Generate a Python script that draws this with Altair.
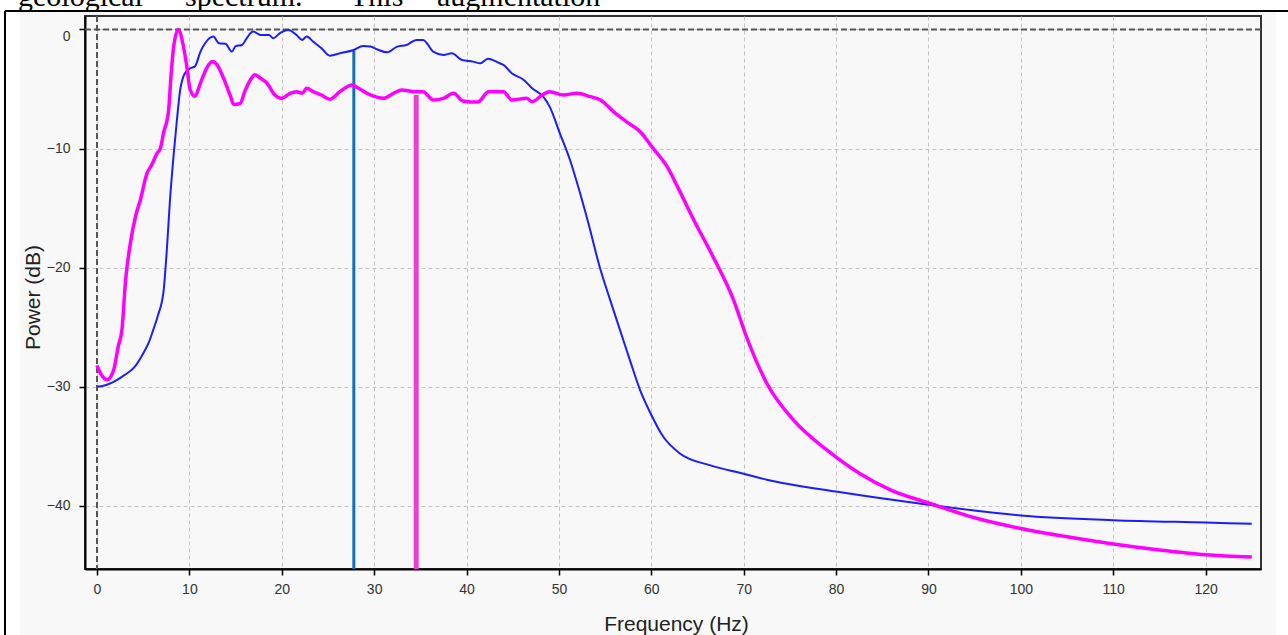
import altair as alt
import pandas as pd

# ---------------- data ----------------
blue_freq = [0, 1, 2, 3, 4, 5, 5.6, 6.1, 6.6, 7.2, 7.6, 7.9, 8.3, 8.6, 9.0, 9.5,
             10.1, 10.6, 11.2, 11.7, 12.6, 13.2, 13.9, 14.6, 15.0, 15.7, 16.2, 16.9,
             17.7, 18.6, 19.1, 19.8, 20.7, 21.6, 22.2, 22.7, 23.4, 24.3, 25.2, 26.3,
             27.8, 28.8, 29.6, 30.3, 31.4, 32.5, 33.5, 34.6, 35.3, 36.4, 37.5, 38.4,
             39.5, 40.7, 41.5, 42.3, 43.6, 44.0, 44.9, 46.2, 47.1, 48.3, 49.0, 50.1,
             51.2, 52.2, 53.2, 54.4, 55.5, 56.6, 57.7, 58.8, 59.9, 61.3, 63.1, 66.4,
             70.0, 72.5, 80, 90, 100, 110, 120, 125]
blue_db = [-30.0, -29.85, -29.5, -29.0, -28.4, -27.2, -26.3, -25.2, -24.0, -22.0, -18.0,
           -14.3, -10.5, -8.0, -5.1, -3.7,
           -3.26, -3.1, -1.86, -1.16, -0.6, -1.16, -1.2, -1.86, -1.4, -1.3, -0.74, -0.18,
           -0.46, -0.46, -0.74, -0.3, -0.04, -0.46, -0.88, -0.6, -1.02, -1.58, -2.2, -2.0,
           -1.72, -1.39, -1.44, -1.66, -1.92, -1.44, -1.3, -0.88, -0.88, -1.86, -2.14, -2.0,
           -2.56, -2.7, -2.84, -2.45, -2.84, -2.98, -3.68, -4.24, -4.94, -5.64, -6.48, -8.72,
           -10.96, -13.5, -16.3, -19.9, -22.6, -25.2, -27.8, -30.3, -32.2, -34.2, -35.6, -36.6,
           -37.3, -37.8, -38.8, -39.9, -40.8, -41.2, -41.4, -41.5]

pink_freq = [0, 0.4, 1.1, 1.8, 2.3, 2.7, 3.1, 3.6, 4.2, 4.7, 5.4, 5.9, 6.5, 6.85, 7.2,
             7.75, 8.0, 8.3, 8.8, 9.3, 9.7, 10.1, 10.6, 11.2, 11.9, 12.5, 13.0, 13.7,
             14.4, 14.8, 15.5, 16.0, 16.6, 17.1, 17.7, 18.4, 19.1, 20.0, 20.9, 21.6,
             22.2, 22.7, 23.4, 24.3, 25.2, 26.3, 27.6, 28.3, 29.6, 31.0, 32.1, 33.0,
             34.3, 35.3, 36.4, 37.5, 38.6, 39.6, 41.2, 42.4, 44.0, 44.9, 46.5, 47.1,
             48.2, 49.0, 50.5, 51.9, 53.4, 54.5, 55.9, 57.3, 58.8, 60.2, 61.7, 62.9,
             64.6, 66.7, 68.9, 70.3, 72.5, 75.4, 79.0, 82.6, 86, 90.2, 95, 100, 105,
             110, 115, 120, 125]
pink_db = [-28.2, -28.9, -29.4, -28.6, -26.6, -25.2, -21.0, -18.0, -15.6, -14.3, -12.1,
           -11.4, -10.4, -10.0, -8.7, -6.8, -4.0, -1.44, 0.0, -1.2, -3.0, -5.1, -5.6,
           -4.5, -3.2, -2.7, -2.98, -4.1, -5.5, -6.3, -6.2, -5.2, -4.24, -3.8, -4.1,
           -4.5, -5.36, -5.78, -5.36, -5.22, -5.36, -4.94, -5.22, -5.5, -5.86, -5.22,
           -4.66, -4.94, -5.5, -5.78, -5.36, -5.08, -5.22, -5.22, -5.92, -5.78, -5.36,
           -6.0, -6.1, -5.22, -5.22, -5.92, -5.78, -6.06, -5.5, -5.22, -5.5, -5.36,
           -5.64, -5.92, -6.9, -7.74, -8.58, -9.98, -11.5, -13.3, -16.0, -19.1, -22.7,
           -25.8, -29.7, -32.8, -35.3, -37.3, -38.7, -39.8, -41.0, -41.9, -42.6, -43.2,
           -43.7, -44.1, -44.3]

centroid_freq = [27.8, 34.55]
centroid_db = [-1.8, -5.5]
centroid_name = ["blue", "pink"]

x_ticks = [0, 10, 20, 30, 40, 50, 60, 70, 80, 90, 100, 110, 120]
y_ticks = [0, -10, -20, -30, -40]
X_MIN, X_MAX = -1.3, 126.0
Y_MIN, Y_MAX = -45.3, 1.13

words = ["geological", "spectrum.", "This", "augmentation"]
word_x = [-67, 100, 265, 352]   # pixel offsets relative to plot origin

# ---------------- layout ----------------
W, H = 1176, 553
PAD = {"left": 85, "top": 16, "right": 27, "bottom": 66}

blue_df = pd.DataFrame({"f": blue_freq, "p": blue_db})
pink_df = pd.DataFrame({"f": pink_freq, "p": pink_db})
cent_df = pd.DataFrame({"f": centroid_freq, "p": centroid_db, "name": centroid_name})

xscale = alt.Scale(domain=[X_MIN, X_MAX], nice=False, zero=False)
yscale = alt.Scale(domain=[Y_MIN, Y_MAX], nice=False, zero=False)

grid_kw = dict(grid=True, gridColor="#c4c4c4", gridDash=[4, 3], gridWidth=1,
               domainColor="#000000", domainWidth=2, tickColor="#000000",
               tickWidth=1.5, tickSize=6, labelFont="Liberation Sans",
               labelFontSize=14, labelColor="#333333", titleFont="Liberation Sans",
               titleFontSize=21, titleFontWeight="normal", titleColor="#222222")

x_axis = alt.Axis(values=x_ticks, format="d", title="Frequency (Hz)", labelPadding=7,
                  titleX=591, titleY=61, titleBaseline="alphabetic", titleAlign="center",
                  **grid_kw)
y_axis = alt.Axis(values=y_ticks, format="d", title="Power (dB)", labelPadding=9,
                  titleX=-52, titleY=281, titleAngle=270, titleAlign="center",
                  titleBaseline="middle",
                  labelBaseline={"condition": {"test": "datum.value === 0", "value": "top"},
                                 "value": "middle"},
                  **grid_kw)

base_blue = alt.Chart(blue_df)

# axes carrier (invisible)
axes_layer = alt.Chart(blue_df).mark_point(opacity=0).encode(
    x=alt.X("f:Q", scale=xscale, axis=x_axis),
    y=alt.Y("p:Q", scale=yscale, axis=y_axis),
)

zero_df = pd.DataFrame({"v": [0]})
hline = alt.Chart(zero_df).mark_rule(color="#555555", strokeWidth=2, strokeDash=[6, 3]).encode(
    y=alt.Y("v:Q", scale=yscale))
vline = alt.Chart(zero_df).mark_rule(color="#555555", strokeWidth=2, strokeDash=[6, 3]).encode(
    x=alt.X("v:Q", scale=xscale))

blue_line = alt.Chart(blue_df).mark_line(color="#1c1cff", strokeWidth=2, interpolate="monotone").encode(
    x=alt.X("f:Q", scale=xscale), y=alt.Y("p:Q", scale=yscale))
pink_line = alt.Chart(pink_df).mark_line(color="#ff00ff", strokeWidth=3.5, interpolate="monotone").encode(
    x=alt.X("f:Q", scale=xscale), y=alt.Y("p:Q", scale=yscale))

cent_rules = alt.Chart(cent_df).mark_rule().encode(
    x=alt.X("f:Q", scale=xscale),
    y=alt.Y("p:Q", scale=yscale),
    y2=alt.datum(Y_MIN),
    color=alt.Color("name:N", scale=alt.Scale(domain=["blue", "pink"], range=["#1270b8", "#ea3fd4"]), legend=None),
    strokeWidth=alt.StrokeWidth("name:N", scale=alt.Scale(domain=["blue", "pink"], range=[3, 5]), legend=None),
)

# page decorations (margins outside the framed figure)
def rect(x1, x2, y1, y2, color):
    return alt.Chart(zero_df).mark_rect(color=color).encode(
        x=alt.value(x1), x2=alt.value(x2), y=alt.value(y1), y2=alt.value(y2))

white_left = rect(-85, -65, -16, 619, "#ffffff")
white_top = rect(-85, 1203, -16, -4, "#ffffff")
white_right = rect(1191, 1203, -16, 619, "#ffffff")

frame_left = alt.Chart(zero_df).mark_rule(color="#000000", strokeWidth=2).encode(
    x=alt.value(-80), y=alt.value(-5), y2=alt.value(619))
frame_top = alt.Chart(zero_df).mark_rule(color="#000000", strokeWidth=2).encode(
    x=alt.value(-80), x2=alt.value(1203), y=alt.value(-5))

word_df = pd.DataFrame({"w": words, "px": word_x})
top_text = alt.Chart(word_df).mark_text(
    font="Liberation Serif", fontSize=30, align="left", baseline="alphabetic", color="#000000"
).encode(text="w:N", x=alt.X("px:Q", scale=None), y=alt.value(-10))

chart = alt.layer(
    axes_layer, hline, vline, cent_rules, blue_line, pink_line,
    white_left, white_top, white_right, frame_left, frame_top, top_text,
).properties(
    width=W, height=H,
    autosize=alt.AutoSizeParams(type="none"),
    padding=PAD,
).configure(
    background="#f8f8f8",
).configure_view(
    fill="#f8f8f8", stroke="#333333", strokeWidth=2,
)

chart.save("out.html", embed_options={"renderer": "svg", "actions": False})
